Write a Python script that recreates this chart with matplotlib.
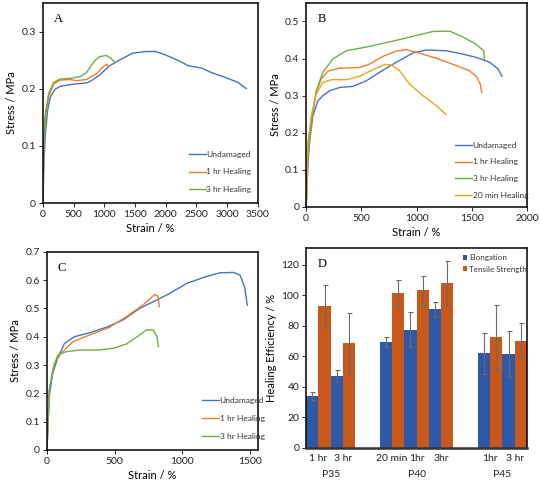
import matplotlib
matplotlib.use("Agg")
import matplotlib.pyplot as plt
import numpy as np
from matplotlib.ticker import FuncFormatter, MultipleLocator

plt.rcParams['font.family'] = ['Lato', 'DejaVu Sans']

# ---- data ----
# panel A (strain %, stress MPa)
a_und_x = [0, 16, 38, 75, 118, 198, 279, 493, 708, 789, 923, 1084, 1245, 1459, 1674, 1835, 1996, 2210, 2371, 2586, 2747, 2961, 3176, 3310]
a_und_y = [0, 0.074, 0.121, 0.162, 0.185, 0.199, 0.204, 0.208, 0.210, 0.214, 0.224, 0.240, 0.250, 0.262, 0.265, 0.265, 0.259, 0.249, 0.240, 0.236, 0.228, 0.220, 0.211, 0.200]
a_1h_x = [0, 11, 38, 91, 172, 279, 440, 547, 708, 869, 976, 1040, 1060]
a_1h_y = [0, 0.092, 0.150, 0.185, 0.208, 0.215, 0.216, 0.214, 0.216, 0.226, 0.238, 0.243, 0.238]
a_3h_x = [0, 11, 38, 91, 172, 279, 440, 601, 708, 842, 923, 1030, 1110, 1164]
a_3h_y = [0, 0.103, 0.156, 0.191, 0.211, 0.217, 0.218, 0.221, 0.228, 0.249, 0.256, 0.258, 0.253, 0.246]

# panel B
b_und_x = [0, 15, 30, 60, 106, 151, 211, 302, 423, 544, 665, 816, 967, 1088, 1269, 1420, 1541, 1662, 1737, 1773]
b_und_y = [0, 0.110, 0.173, 0.245, 0.286, 0.300, 0.313, 0.322, 0.325, 0.340, 0.363, 0.390, 0.415, 0.423, 0.421, 0.412, 0.403, 0.390, 0.372, 0.352]
b_1h_x = [0, 15, 45, 91, 136, 196, 302, 483, 574, 695, 816, 906, 997, 1178, 1360, 1480, 1541, 1577, 1589]
b_1h_y = [0, 0.155, 0.227, 0.309, 0.345, 0.366, 0.374, 0.376, 0.385, 0.406, 0.420, 0.424, 0.417, 0.401, 0.381, 0.367, 0.352, 0.331, 0.309]
b_3h_x = [0, 15, 45, 91, 151, 242, 363, 544, 786, 967, 1148, 1299, 1420, 1541, 1607, 1616]
b_3h_y = [0, 0.128, 0.227, 0.313, 0.363, 0.399, 0.421, 0.431, 0.447, 0.460, 0.473, 0.474, 0.458, 0.438, 0.421, 0.394]
b_20m_x = [0, 15, 45, 91, 151, 227, 363, 483, 604, 710, 770, 846, 937, 1057, 1178, 1263]
b_20m_y = [0, 0.173, 0.245, 0.304, 0.336, 0.343, 0.343, 0.352, 0.370, 0.384, 0.383, 0.367, 0.331, 0.300, 0.273, 0.250]

# panel C
c_und_x = [0, 17, 42, 79, 129, 203, 314, 437, 561, 685, 808, 907, 1031, 1154, 1278, 1377, 1426, 1460, 1480]
c_und_y = [0, 0.188, 0.271, 0.324, 0.376, 0.400, 0.414, 0.433, 0.459, 0.500, 0.529, 0.553, 0.588, 0.609, 0.626, 0.627, 0.618, 0.576, 0.512]
c_1h_x = [0, 17, 54, 104, 190, 314, 462, 586, 709, 796, 820, 830]
c_1h_y = [0, 0.212, 0.306, 0.341, 0.382, 0.406, 0.433, 0.471, 0.512, 0.549, 0.544, 0.506]
c_3h_x = [0, 17, 42, 79, 141, 240, 388, 487, 586, 685, 734, 784, 813, 823]
c_3h_y = [0, 0.212, 0.282, 0.335, 0.347, 0.353, 0.353, 0.359, 0.374, 0.406, 0.424, 0.424, 0.400, 0.365]

# panel D
d_cats = ["1 hr", "3 hr", "20 min", "1hr", "3hr", "1hr", "3 hr"]
d_pos = [0, 1, 3, 4, 5, 7, 8]
d_groups = ["P35", "P40", "P45"]
d_group_pos = [0.5, 4, 7.5]
elong = [34.0, 47.1, 69.4, 77.4, 90.7, 61.9, 61.5]
elong_err = [2.5, 4.0, 3.3, 11.6, 4.8, 13.7, 14.8]
tensile = [92.9, 68.7, 101.2, 103.2, 108.0, 72.6, 69.8]
tensile_err = [13.5, 19.4, 9.0, 9.3, 14.2, 21.3, 11.8]

c_blue = "#4472C4"
c_orange = "#ED7D31"
c_green = "#70AD47"
c_gold = "#E0A820"

fig = plt.figure(figsize=(5.4, 4.88), dpi=100)

def fmt(v, pos):
    if abs(v) < 1e-9:
        return "0"
    return "%g" % round(v, 2)

def style(ax, letter, xmax, ymax, xstep, ystep):
    ax.set_xlim(0, xmax)
    ax.set_ylim(0, ymax)
    ax.xaxis.set_major_locator(MultipleLocator(xstep))
    ax.yaxis.set_major_locator(MultipleLocator(ystep))
    ax.yaxis.set_major_formatter(FuncFormatter(fmt))
    ax.tick_params(labelsize=7.5, length=3, width=0.7, pad=2, colors="#222222")
    for s in ax.spines.values():
        s.set_linewidth(1.1)
        s.set_color("black")
    ax.text(0.05, 0.95, letter, transform=ax.transAxes, fontsize=9,
            family="Liberation Serif", va="top", ha="left")
    ax.set_xlabel("Strain / %", fontsize=8, labelpad=3)
    ax.set_ylabel("Stress / MPa", fontsize=8, labelpad=3)

lw = 1.0
leg_kw = dict(loc="lower left", frameon=False, fontsize=6, handlelength=2.0,
              handletextpad=0.1, borderpad=0, labelcolor="#333333")
# A
axA = fig.add_axes([0.0796, 0.584, 0.398, 0.41])
axA.plot(a_und_x, a_und_y, color=c_blue, lw=lw, label="Undamaged")
axA.plot(a_1h_x, a_1h_y, color=c_orange, lw=lw, label="1 hr Healing")
axA.plot(a_3h_x, a_3h_y, color=c_green, lw=lw, label="3 hr Healing")
style(axA, "A", 3500, 0.35, 500, 0.1)
axA.legend(bbox_to_anchor=(0.66, 0.03), labelspacing=1.25, **leg_kw)

# B
axB = fig.add_axes([0.567, 0.576, 0.409, 0.418])
axB.plot(b_und_x, b_und_y, color=c_blue, lw=lw, label="Undamaged")
axB.plot(b_1h_x, b_1h_y, color=c_orange, lw=lw, label="1 hr Healing")
axB.plot(b_3h_x, b_3h_y, color=c_green, lw=lw, label="3 hr Healing")
axB.plot(b_20m_x, b_20m_y, color=c_gold, lw=lw, label="20 min Healing")
style(axB, "B", 2000, 0.55, 500, 0.1)
axB.legend(bbox_to_anchor=(0.655, 0.02), labelspacing=1.15, **leg_kw)

# C
axC = fig.add_axes([0.087, 0.078, 0.391, 0.406])
axC.plot(c_und_x, c_und_y, color=c_blue, lw=lw, label="Undamaged")
axC.plot(c_1h_x, c_1h_y, color=c_orange, lw=lw, label="1 hr Healing")
axC.plot(c_3h_x, c_3h_y, color=c_green, lw=lw, label="3 hr Healing")
style(axC, "C", 1560, 0.7, 500, 0.1)
axC.legend(bbox_to_anchor=(0.715, 0.03), labelspacing=1.3, **leg_kw)

# D
axD = fig.add_axes([0.567, 0.082, 0.409, 0.41])
pos = np.array(d_pos, dtype=float)
ekw = dict(ecolor="#6a6a6a", elinewidth=0.8, capsize=1.8, capthick=0.8)
axD.bar(pos - 0.25, elong, width=0.5, color="#2E59A8", yerr=elong_err, error_kw=ekw, label="Elongation")
axD.bar(pos + 0.25, tensile, width=0.5, color="#C9591A", yerr=tensile_err, error_kw=ekw, label="Tensile Strength")
axD.set_xlim(-0.5, 8.5)
axD.set_ylim(0, 131)
axD.yaxis.set_major_locator(MultipleLocator(20))
axD.set_xticks(pos)
axD.set_xticklabels(d_cats)
axD.tick_params(axis="x", length=0, labelsize=7.5, pad=4, colors="#222222")
axD.tick_params(axis="y", labelsize=7.5, length=3, width=0.7, pad=2, colors="#222222")
for s in axD.spines.values():
    s.set_linewidth(1.1)
    s.set_color("black")
axD.spines["bottom"].set_linewidth(1.8)
axD.spines["bottom"].set_color("#333333")
for g, gp in zip(d_groups, d_group_pos):
    axD.text(gp, -0.11, g, transform=axD.get_xaxis_transform(), ha="center", va="top", fontsize=7.5, color="#222222")
axD.text(0.05, 0.95, "D", transform=axD.transAxes, fontsize=9,
         family="Liberation Serif", va="top", ha="left")
axD.set_ylabel("Healing Efficiency / %", fontsize=8, labelpad=3)
axD.legend(loc="upper left", bbox_to_anchor=(0.69, 0.99), frameon=False, fontsize=5.8,
           handlelength=0.6, handleheight=0.6, handletextpad=0.25, labelspacing=0.6, borderpad=0,
           labelcolor="#333333")

fig.savefig("out.png", dpi=100)
